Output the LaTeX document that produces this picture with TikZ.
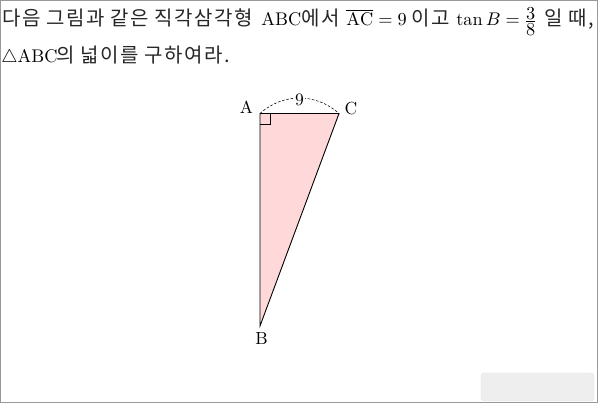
\documentclass[tikz,border=0pt]{standalone}
\usepackage{fontspec}
\usepackage{amsmath}
\newfontfamily\kr[LetterSpace=7.5]{Noto Sans CJK KR}
\newcommand\kfrac[2]{\mathord{\kern0.6pt\vcenter{\offinterlineskip\halign{\hfil##\hfil\cr$#1$\cr\noalign{\kern0.9pt\hrule height0.3pt\kern0.9pt}$#2$\cr}}\kern0.6pt}}
\tikzset{
  lbl/.style={font=\fontsize{10}{12}\selectfont, scale=1.75, transform shape, inner sep=0pt},
  lat/.style={font=\fontsize{10}{12}\selectfont, scale=1.83, transform shape, inner sep=0pt, anchor=base west},
  kor/.style={font=\fontsize{20}{22}\selectfont\kr, text=black!85, inner sep=0pt, anchor=base west},
}
\begin{document}
\begin{tikzpicture}[x=1pt,y=-1pt]
\useasboundingbox (0,0) rectangle (598,403);
\draw[gray!80, line width=1pt] (0.5,0.5) rectangle (597.5,402.5);
\draw[gray!25, fill=gray!13, rounded corners=3pt] (481,373) rectangle (594,401);
% line 1
\node[kor] (k1) at (2,26) {다음 그림과 같은 직각삼각형};
\node[lat] (t1) at (261,26) {ABC};
\node[kor] (k2) at (301,26) {에서};
\node[lat] (t2) at (346,26) {$\overline{\mathrm{AC}}=9$};
\node[kor] (k3) at (411,26) {이고};
\node[lat] (t3) at (456,26) {$\tan B=\kfrac{3}{8}$};
\node[kor] (k4) at (544,26) {일 때,};
% line 2
\node[lat] (t4) at (1,62.5) {$\triangle$ABC};
\node[kor] (k5) at (56,62.5) {의 넓이를 구하여라.};
% triangle
\coordinate (A) at (260,113.5);
\coordinate (C) at (339,113.5);
\coordinate (B) at (260,326);
\fill[red!15] (A) -- (C) -- (B) -- cycle;
\draw[line width=0.6pt] (A) ++(0,10.5) -| ++(10.5,-10.5);
\draw[line width=0.9pt] (A) -- (C) -- (B) -- cycle;
\draw[dash pattern=on 2.5pt off 1.8pt, line width=0.55pt] (A) to[out=42,in=138] (C);
\node[lbl, fill=white, inner sep=0.7pt] (n9) at (299.5,99.5) {9};
\node[lbl] (la) at (246.5,107) {A};
\node[lbl] (lc) at (351,108.5) {C};
\node[lbl] (lb) at (261.5,338.5) {B};
\end{tikzpicture}
\end{document}
